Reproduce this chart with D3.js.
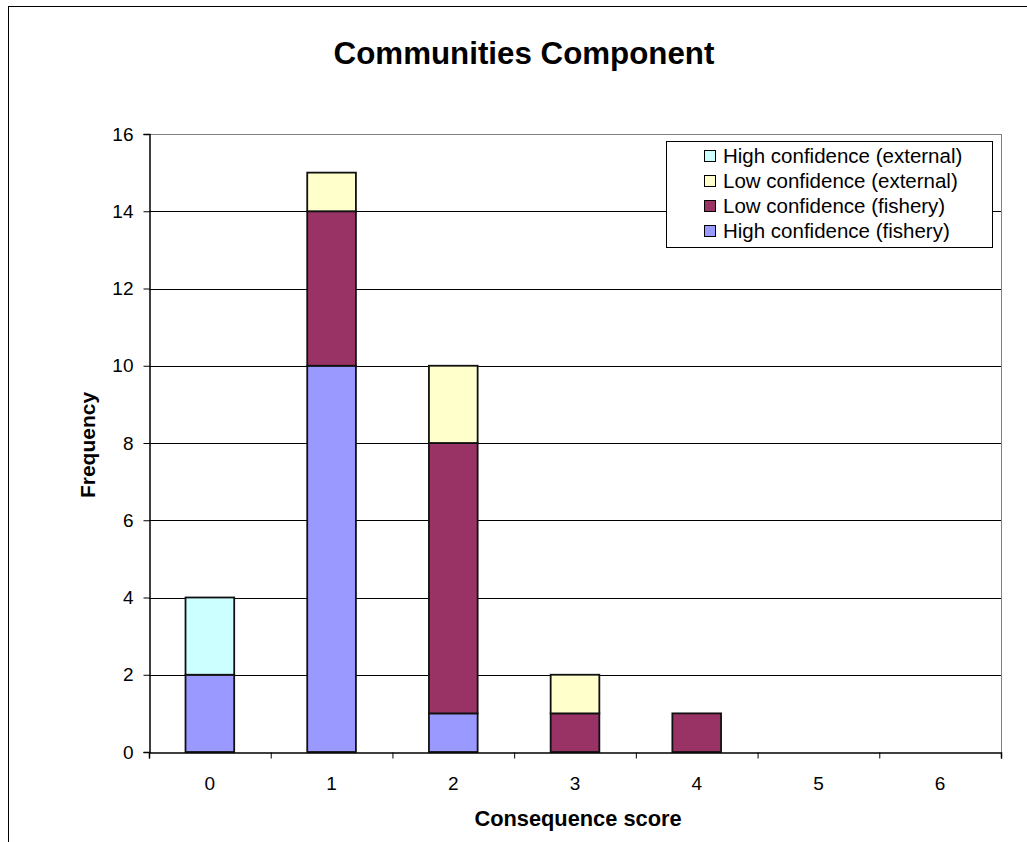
<!DOCTYPE html>
<html>
<head>
<meta charset="utf-8">
<script src="https://cdn.jsdelivr.net/npm/d3@7"></script>
<style>
  html, body { margin: 0; padding: 0; background: #fff; }
  svg { display: block; font-family: Arial, "Liberation Sans", sans-serif; }
</style>
</head>
<body>
<svg id="chart" width="1027" height="842"></svg>
<script>
// Consequence scores on the x axis
const categories = ["0", "1", "2", "3", "4", "5", "6"];

// Frequency counts per score, one array per series (stacked bottom to top)
const highFishery = [2, 10, 1, 0, 0, 0, 0];
const lowFishery = [0, 4, 7, 1, 1, 0, 0];
const lowExternal = [0, 1, 2, 1, 0, 0, 0];
const highExternal = [2, 0, 0, 0, 0, 0, 0];

const seriesNames = [
  "High confidence (fishery)",
  "Low confidence (fishery)",
  "Low confidence (external)",
  "High confidence (external)"
];
const seriesColors = ["#9999FF", "#993366", "#FFFFCC", "#CCFFFF"];

const yTicks = [0, 2, 4, 6, 8, 10, 12, 14, 16];

const svg = d3.select("#chart");

// Outer chart frame
svg.append("rect")
  .attr("x", 8.5).attr("y", 6.5)
  .attr("width", 1040).attr("height", 850)
  .attr("fill", "#fff").attr("stroke", "#000").attr("stroke-width", 1);

const plot = { left: 149, right: 1001, top: 134, bottom: 752 };

const x = d3.scaleBand()
  .domain(categories)
  .range([plot.left, plot.right])
  .paddingInner(0).paddingOuter(0);

const y = d3.scaleLinear()
  .domain([0, 16])
  .range([plot.bottom, plot.top]);

// Horizontal gridlines
svg.append("g")
  .selectAll("line")
  .data(yTicks.filter(d => d > 0))
  .join("line")
  .attr("x1", plot.left).attr("x2", plot.right)
  .attr("y1", d => Math.round(y(d)) + 0.5).attr("y2", d => Math.round(y(d)) + 0.5)
  .attr("stroke", d => d === 16 ? "#808080" : "#000")
  .attr("stroke-width", 1);

// Right border of the plot area
svg.append("line")
  .attr("x1", plot.right + 0.5).attr("x2", plot.right + 0.5)
  .attr("y1", plot.top).attr("y2", plot.bottom)
  .attr("stroke", "#808080");

// Stacked bars
const table = categories.map((c, i) => ({
  cat: c,
  s0: highFishery[i],
  s1: lowFishery[i],
  s2: lowExternal[i],
  s3: highExternal[i]
}));
const stack = d3.stack().keys(["s0", "s1", "s2", "s3"]);
const layers = stack(table);

const barW = x.bandwidth() * 0.4;

svg.append("g")
  .selectAll("g")
  .data(layers)
  .join("g")
  .attr("fill", (d, i) => seriesColors[i])
  .selectAll("rect")
  .data(d => d.filter(p => p[1] - p[0] > 0))
  .join("rect")
  .attr("x", d => x(d.data.cat) + (x.bandwidth() - barW) / 2)
  .attr("y", d => y(d[1]))
  .attr("width", barW)
  .attr("height", d => y(d[0]) - y(d[1]))
  .attr("stroke", "#111")
  .attr("stroke-width", 1.8);

// Y axis
const yAxis = d3.axisLeft(y)
  .tickValues(yTicks)
  .tickSize(6)
  .tickPadding(10)
  .tickFormat(d3.format("d"));

const gy = svg.append("g")
  .attr("transform", `translate(${plot.left + 0.5},0)`)
  .call(yAxis);
gy.select(".domain").attr("stroke", "#000").attr("stroke-width", 1.5);
gy.selectAll(".tick line").attr("stroke", "#000");
gy.selectAll(".tick text").attr("font-size", 19).attr("fill", "#000")
  .attr("font-family", "Arial, 'Liberation Sans', sans-serif");

// X axis: ticks at category boundaries, labels centred in each band
const xEdges = d3.scaleLinear().domain([0, categories.length]).range([plot.left, plot.right]);
const gx = svg.append("g")
  .attr("transform", `translate(0,${plot.bottom + 0.5})`);
gx.call(d3.axisBottom(xEdges).ticks(categories.length).tickSize(6).tickFormat(""));
gx.select(".domain").attr("stroke", "#000").attr("stroke-width", 1.5);
gx.selectAll(".tick line").attr("stroke", "#000");

svg.append("g")
  .selectAll("text")
  .data(categories)
  .join("text")
  .attr("x", d => x(d) + x.bandwidth() / 2)
  .attr("y", 790)
  .attr("text-anchor", "middle")
  .attr("font-size", 19)
  .text(d => d);

// Title
svg.append("text")
  .attr("x", 524).attr("y", 64)
  .attr("text-anchor", "middle")
  .attr("font-size", 31.3).attr("font-weight", "bold")
  .text("Communities Component");

// Axis titles
svg.append("text")
  .attr("x", (plot.left + plot.right) / 2 + 3).attr("y", 826)
  .attr("text-anchor", "middle")
  .attr("font-size", 21.8).attr("font-weight", "bold")
  .text("Consequence score");

svg.append("text")
  .attr("transform", `translate(95,${(plot.top + plot.bottom) / 2 + 2}) rotate(-90)`)
  .attr("text-anchor", "middle")
  .attr("font-size", 21).attr("font-weight", "bold")
  .text("Frequency");

// Legend
const legend = svg.append("g");
legend.append("rect")
  .attr("x", 666.5).attr("y", 141.5)
  .attr("width", 326).attr("height", 106)
  .attr("fill", "#fff").attr("stroke", "#000");

const legendOrder = [3, 2, 1, 0];
const rows = legend.selectAll("g.row")
  .data(legendOrder)
  .join("g")
  .attr("class", "row")
  .attr("transform", (d, i) => `translate(0,${155 + i * 25})`);

rows.append("rect")
  .attr("x", 704.5).attr("y", -4.5)
  .attr("width", 11).attr("height", 11)
  .attr("fill", d => seriesColors[d])
  .attr("stroke", "#000");

rows.append("text")
  .attr("x", 723).attr("y", 8)
  .attr("font-size", 20.5)
  .text(d => seriesNames[d]);
</script>
</body>
</html>
